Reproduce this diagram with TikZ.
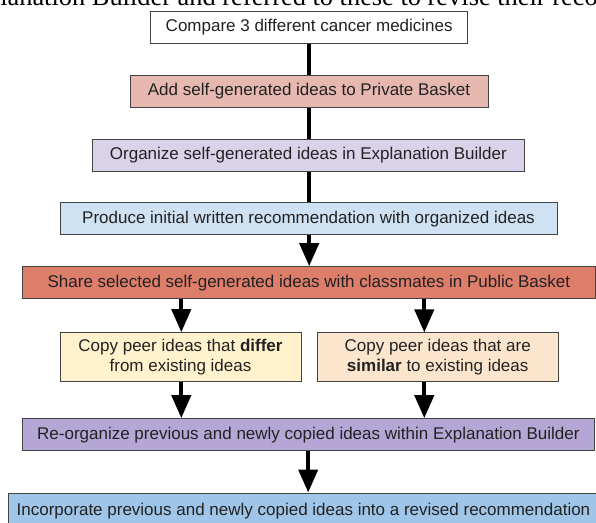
\documentclass[tikz,border=0pt]{standalone}
\usepackage{fontspec}
\setmainfont{Liberation Sans}
\newfontfamily\serifdoc{Liberation Serif}
\usetikzlibrary{arrows.meta,calc}
\definecolor{bordergray}{HTML}{434343}
\definecolor{textcol}{HTML}{222222}
\definecolor{cwhite}{HTML}{FFFFFF}
\definecolor{cpink}{HTML}{E6B8AF}
\definecolor{clav}{HTML}{D9D2E9}
\definecolor{clblue}{HTML}{CFE2F3}
\definecolor{cred}{HTML}{DD7E6B}
\definecolor{cyellow}{HTML}{FFF2CC}
\definecolor{corange}{HTML}{FCE5CD}
\definecolor{cpurple}{HTML}{B4A7D6}
\definecolor{cblue}{HTML}{9FC5E8}
\begin{document}
\begin{tikzpicture}[x=0.75pt,y=-0.75pt,
  box/.style={draw=bordergray, line width=0.75pt, inner sep=0pt, align=center,
    font=\fontsize{12.75}{15}\selectfont, text=textcol},
  link/.style={line width=3pt, draw=black},
  arr/.style={link, -{Triangle[width=14.25pt,length=17.25pt]}}]
\useasboundingbox (0,0) rectangle (596,522);
\begin{scope}
\clip (0,0) rectangle (596,522);
\node[anchor=base west, inner sep=0pt, font=\serifdoc\fontsize{19.8}{22}\selectfont, text=black] (top) at (0,5) {lanation Builder and referred to these to revise their reco};
\node[box, fill=cblue, minimum width=443.25pt, minimum height=27.75pt] (b9) at (303.5,511.5) {Incorporate previous and newly copied ideas into a revised recommendation};
\end{scope}
\coordinate (xm) at (309.2,0);
\coordinate (xl) at (181.3,0);
\coordinate (xr) at (424.3,0);
\coordinate (xb) at (308.2,0);
\node[box, fill=cwhite, minimum width=237.75pt, minimum height=24.2pt] (b1) at (309.2,27.2) {Compare 3 different cancer medicines};
\node[box, fill=cpink, minimum width=268.5pt, minimum height=24pt] (b2) at (309,91) {Add self-generated ideas to Private Basket};
\node[box, fill=clav, minimum width=324.5pt, minimum height=24pt] (b3) at (308.4,155) {Organize self-generated ideas in Explanation Builder};
\node[box, fill=clblue, minimum width=372.75pt, minimum height=24.2pt] (b4) at (308.5,218.8) {Produce initial written recommendation with organized ideas};
\node[box, fill=cred, minimum width=429.2pt, minimum height=24pt] (b5) at (308.9,282.7) {Share selected self-generated ideas with classmates in Public Basket};
\node[box, fill=cyellow, minimum width=180.75pt, minimum height=36.75pt] (b6) at (180.5,357.2) {Copy peer ideas that \textbf{differ}\\from existing ideas};
\node[box, fill=corange, minimum width=181pt, minimum height=36.5pt] (b7) at (437.7,357.3) {Copy peer ideas that are\\\textbf{similar} to existing ideas};
\node[box, fill=cpurple, minimum width=428.5pt, minimum height=24.2pt] (b8) at (308.4,434.8) {Re-organize previous and newly copied ideas within Explanation Builder};
\draw[link] (b1.south -| xm) -- (b2.north -| xm);
\draw[link] (b2.south -| xm) -- (b3.north -| xm);
\draw[link] (b3.south -| xm) -- (b4.north -| xm);
\draw[arr] (b4.south -| xm) -- (b5.north -| xm);
\draw[arr] (b5.south -| xl) -- (b6.north -| xl);
\draw[arr] (b5.south -| xr) -- (b7.north -| xr);
\draw[arr] (b6.south -| xl) -- (b8.north -| xl);
\draw[arr] (b7.south -| xr) -- (b8.north -| xr);
\draw[arr] (b8.south -| xb) -- (b9.north -| xb);
\end{tikzpicture}
\end{document}
